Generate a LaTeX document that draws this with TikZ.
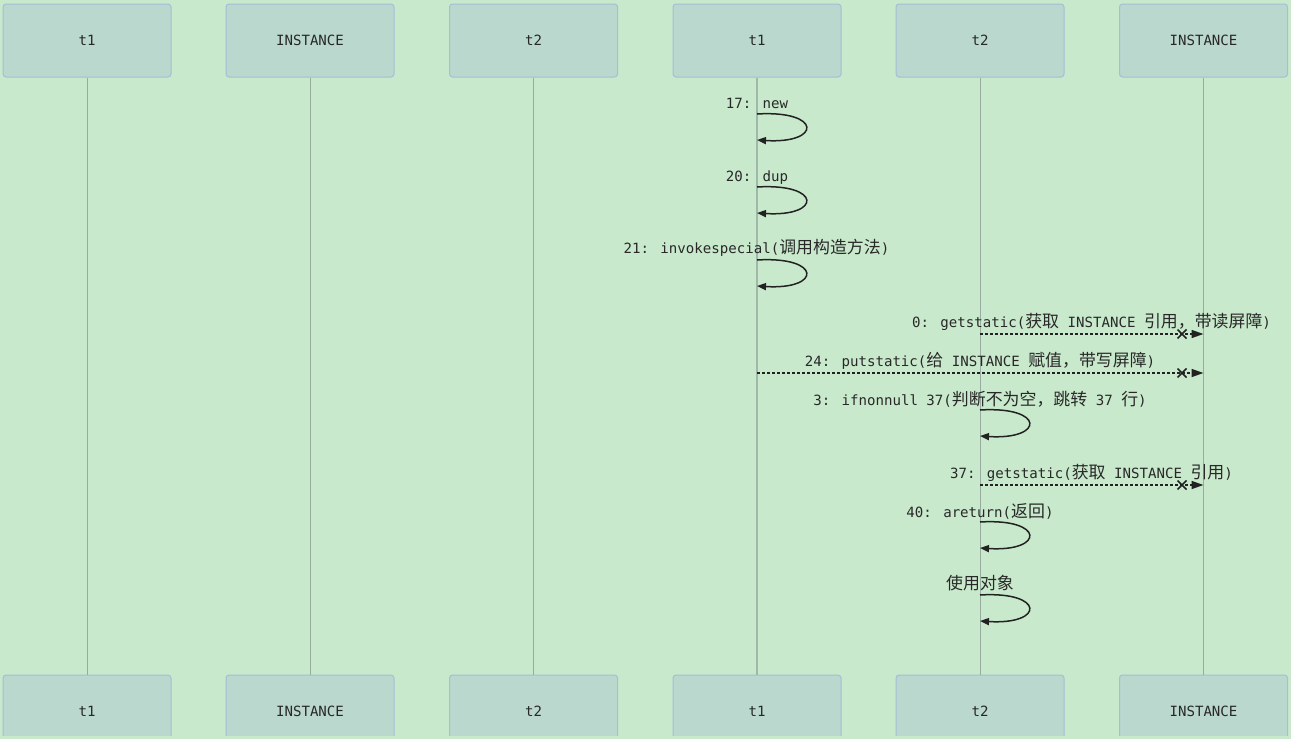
\documentclass[tikz,border=0pt]{standalone}
\usepackage{fontspec}
\setmainfont{DejaVu Sans Mono}
\newfontfamily\cjk[Scale=1.2]{Noto Sans CJK SC}
\usetikzlibrary{arrows.meta}
\definecolor{bg}{RGB}{201,233,204}
\definecolor{boxfill}{RGB}{186,216,206}
\definecolor{boxline}{RGB}{166,190,214}
\definecolor{life}{RGB}{150,172,158}
\definecolor{txt}{RGB}{40,40,40}
\definecolor{msg}{RGB}{34,34,34}
\newcommand\zh[1]{{\cjk #1}}
\begin{document}
\begin{tikzpicture}[x=1pt,y=-1pt,
 actor/.style={draw=boxline, fill=boxfill, rounded corners=3pt, minimum width=168pt, minimum height=73pt, inner sep=0pt, font=\fontsize{14.1pt}{16pt}\selectfont, text=txt, line width=1pt},
 lifeline/.style={draw=life, line width=1pt},
 lbl/.style={anchor=base, inner sep=0pt, font=\fontsize{14.1pt}{16pt}\selectfont, text=txt},
 selfloop/.style={draw=msg, line width=1.5pt, -{Triangle[length=9pt,width=7pt]}},
 async/.style={draw=msg, line width=1.5pt, dash pattern=on 3pt off 2pt, -{Triangle[length=12pt,width=8pt]}},
 cross/.style={draw=msg, line width=1.5pt}
]
\fill[bg] (0,0) rectangle (1291,739);
\useasboundingbox (0,0) rectangle (1291,739);

% actors top
\node[actor] (a1) at (87,40.5) {t1};
\node[actor] (a2) at (310,40.5) {INSTANCE};
\node[actor] (a3) at (533.5,40.5) {t2};
\node[actor] (a4) at (757,40.5) {t1};
\node[actor] (a5) at (980,40.5) {t2};
\node[actor] (a6) at (1203.5,40.5) {INSTANCE};
% actors bottom
\node[actor] (b1) at (87,711.5) {t1};
\node[actor] (b2) at (310,711.5) {INSTANCE};
\node[actor] (b3) at (533.5,711.5) {t2};
\node[actor] (b4) at (757,711.5) {t1};
\node[actor] (b5) at (980,711.5) {t2};
\node[actor] (b6) at (1203.5,711.5) {INSTANCE};
\fill[bg] (0,736) rectangle (1291,739);

% lifelines
\draw[lifeline] (a1.south) -- (b1.north);
\draw[lifeline] (a2.south) -- (b2.north);
\draw[lifeline] (a3.south) -- (b3.north);
\draw[lifeline, line width=1.6pt, draw=life!80!bg] (a4.south) -- (b4.north);
\draw[lifeline] (a5.south) -- (b5.north);
\draw[lifeline] (a6.south) -- (b6.north);

% self messages on t1
\node[lbl] (n1) at (757,108) {17: new};
\coordinate (l1s) at (757,114); \coordinate (l1e) at (757,140);
\draw[selfloop] (l1s) .. controls +(65,-4) and +(65,4) .. (l1e);

\node[lbl] (n2) at (757,181) {20: dup};
\coordinate (l2s) at (757,187); \coordinate (l2e) at (757,213);
\draw[selfloop] (l2s) .. controls +(65,-4) and +(65,4) .. (l2e);

\node[lbl] (n3) at (756.5,253) {21: invokespecial(\zh{调用构造方法})};
\coordinate (l3s) at (757,260); \coordinate (l3e) at (757,286);
\draw[selfloop] (l3s) .. controls +(65,-4) and +(65,4) .. (l3e);

% getstatic t2 -> INSTANCE
\node[lbl] (n4) at (1091.5,327) {0: getstatic(\zh{获取} INSTANCE \zh{引用，带读屏障})};
\coordinate (m1s) at (980,334); \coordinate (m1e) at (1203.5,334);
\draw[async] (m1s) -- (m1e);
\draw[cross] (1177.5,329.5) -- (1186.5,338.5) (1177.5,338.5) -- (1186.5,329.5);

% putstatic t1 -> INSTANCE
\node[lbl] (n5) at (980,366) {24: putstatic(\zh{给} INSTANCE \zh{赋值，带写屏障})};
\coordinate (m2s) at (757,373); \coordinate (m2e) at (1203.5,373);
\draw[async] (m2s) -- (m2e);
\draw[cross] (1177.5,368.5) -- (1186.5,377.5) (1177.5,377.5) -- (1186.5,368.5);

% ifnonnull
\node[lbl] (n6) at (980,405) {3: ifnonnull 37(\zh{判断不为空，跳转} 37 \zh{行})};
\coordinate (l4s) at (980,410); \coordinate (l4e) at (980,436);
\draw[selfloop] (l4s) .. controls +(65,-4) and +(65,4) .. (l4e);

% getstatic 37
\node[lbl] (n7) at (1091.5,478) {37: getstatic(\zh{获取} INSTANCE \zh{引用})};
\coordinate (m3s) at (980,485); \coordinate (m3e) at (1203.5,485);
\draw[async] (m3s) -- (m3e);
\draw[cross] (1177.5,480.5) -- (1186.5,489.5) (1177.5,489.5) -- (1186.5,480.5);

% areturn
\node[lbl] (n8) at (980,517) {40: areturn(\zh{返回})};
\coordinate (l5s) at (980,522); \coordinate (l5e) at (980,548);
\draw[selfloop] (l5s) .. controls +(65,-4) and +(65,4) .. (l5e);

% use object
\node[lbl] (n9) at (980,589) {\zh{使用对象}};
\coordinate (l6s) at (980,595); \coordinate (l6e) at (980,621);
\draw[selfloop] (l6s) .. controls +(65,-4) and +(65,4) .. (l6e);
\end{tikzpicture}
\end{document}
